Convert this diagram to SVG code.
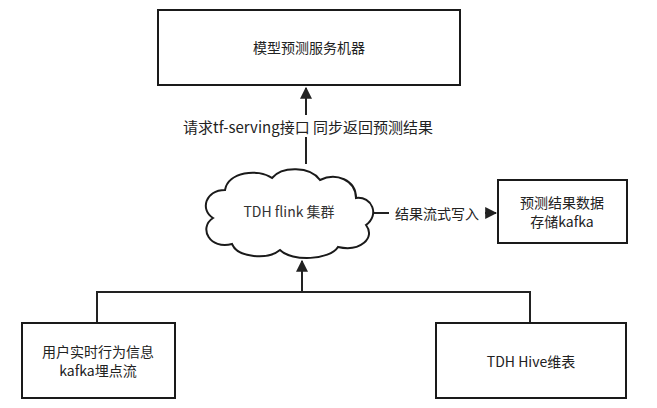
<svg xmlns="http://www.w3.org/2000/svg" width="657" height="408" viewBox="0 0 657 408">
<style>
.b{fill:#fff;stroke:#1a1a1a;stroke-width:2}
.l{fill:none;stroke:#222;stroke-width:2}
text{font-family:"Noto Sans CJK SC","Liberation Sans",sans-serif;font-size:14px;fill:#222;text-anchor:middle;dominant-baseline:central}
.e{font-size:15px}
</style>
<defs><marker id="a" viewBox="0 0 10 10" refX="9" refY="5" markerWidth="6" markerHeight="6" orient="auto"><path d="M0,0L10,5L0,10z" fill="#222"/></marker></defs>
<g id="connectors">
<path class="l" d="M306,164V88" marker-end="url(#a)"/>
<rect x="176" y="115" width="264" height="22" fill="#fff"/>
<text class="e" x="308" y="126">请求tf-serving接口 同步返回预测结果</text>
<path class="l" d="M373,213H496" marker-end="url(#a)"/>
<rect x="389" y="203" width="96" height="20" fill="#fff"/>
<text x="437" y="213">结果流式写入</text>
<path class="l" d="M97,323V292H530V323M302,292V261" marker-end="url(#a)"/>
</g>
<g id="server"><rect class="b" x="158" y="10" width="302" height="75"/><text x="309" y="47">模型预测服务机器</text></g>
<g id="flink"><path class="b" d="M225,190C205,190 200,210 213,218C198,228 210,250 232,244C238,258 268,260 280,250C292,262 330,260 338,247C360,252 376,238 366,225C380,215 372,196 356,198C356,180 336,172 320,180C310,166 282,166 272,178C258,168 228,172 225,190Z"/><text x="289" y="211" fill="#333" style="fill:#333">TDH flink 集群</text></g>
<g id="kafkaout"><rect class="b" x="498" y="180" width="129" height="63"/><text x="562" y="202">预测结果数据</text><text x="562" y="221">存储kafka</text></g>
<g id="user"><rect class="b" x="22" y="323" width="153" height="75"/><text x="98" y="351">用户实时行为信息</text><text x="98" y="370">kafka埋点流</text></g>
<g id="hive"><rect class="b" x="436" y="323" width="190" height="75"/><text x="531" y="361">TDH Hive维表</text></g>
</svg>
